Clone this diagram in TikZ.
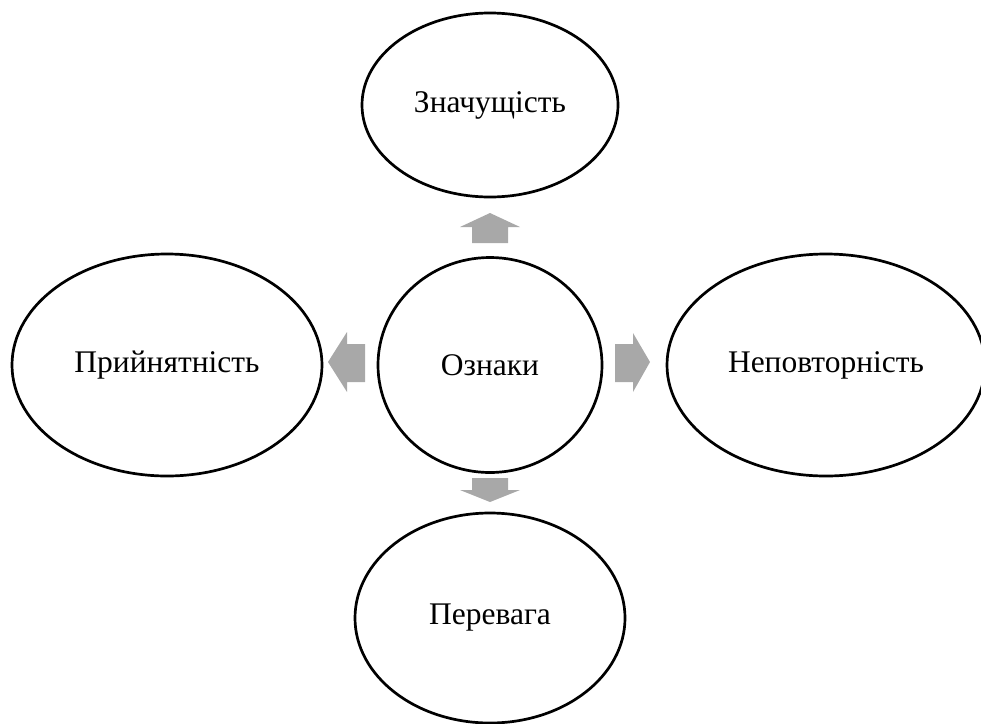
\documentclass[tikz,border=0pt]{standalone}
\usepackage{fontspec}
\setmainfont{Liberation Serif}
\usetikzlibrary{shapes.geometric}
\begin{document}
\begin{tikzpicture}[x=1pt,y=-1pt,
  oval/.style={draw=black,line width=2.7pt,ellipse,inner sep=0pt},
  lbl/.style={font=\fontsize{31.5}{36}\selectfont},
  blockarrow/.style={fill=black!34,draw=none}]
\useasboundingbox (0,0) rectangle (981,723);
\begin{scope}
\clip (0,0) rectangle (981,723);
\node[oval,minimum width=256pt,minimum height=184pt] (top) at (490,105) {};
\node[oval,minimum width=224pt,minimum height=215pt] (center) at (490,365) {};
\node[oval,minimum width=310pt,minimum height=222pt] (left) at (167,365) {};
\node[oval,minimum width=318pt,minimum height=222pt] (right) at (826,365) {};
\node[oval,minimum width=270pt,minimum height=210pt] (bottom) at (490,618) {};
\end{scope}
\node[lbl] (ttop) at (top.center) {Значущість};
\node[lbl] (tcenter) at (center.center) {Ознаки};
\node[lbl] (tleft) at (left.center) {Прийнятність};
\node[lbl] (tright) at (right.center) {Неповторність};
\node[lbl] (tbottom) at (bottom.center) {Перевага};
% up arrow
\fill[blockarrow] (472,243) -- (472,227) -- (460,227) -- (490,213) -- (520,227) -- (508,227) -- (508,243) -- cycle;
% down arrow
\fill[blockarrow] (472,478) -- (508,478) -- (508,490) -- (520,490) -- (490,502) -- (460,490) -- (472,490) -- cycle;
% left arrow
\fill[blockarrow] (365,344) -- (347,344) -- (347,332) -- (328,362) -- (347,392) -- (347,382) -- (365,382) -- cycle;
% right arrow
\fill[blockarrow] (615,344) -- (633,344) -- (633,333) -- (650,362) -- (633,392) -- (633,382) -- (615,382) -- cycle;
\end{tikzpicture}
\end{document}
